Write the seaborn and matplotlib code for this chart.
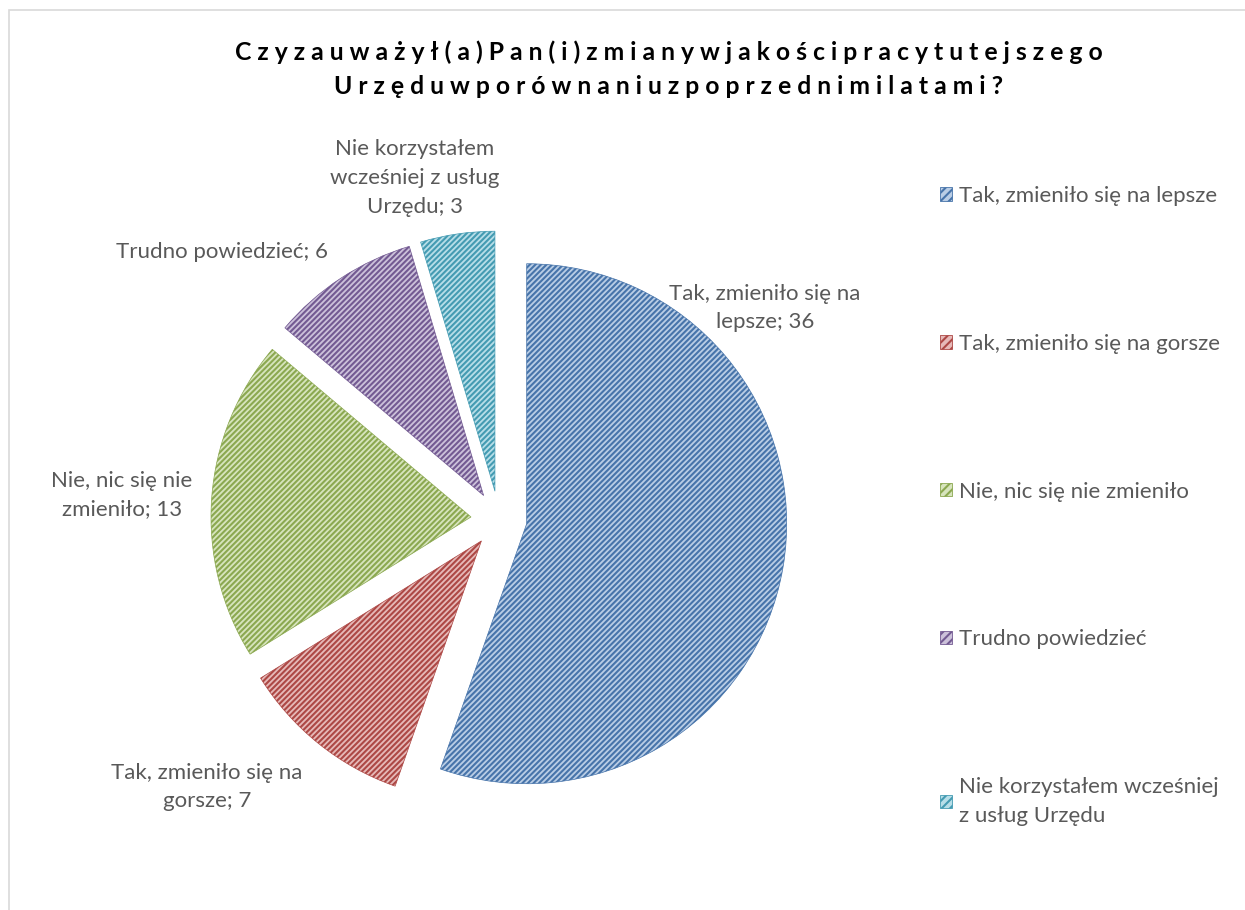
import matplotlib
matplotlib.use("Agg")
import matplotlib.pyplot as plt
import seaborn as sns
from matplotlib.patches import Patch, Rectangle

# ---------------- data ----------------
categories = [
    "Tak, zmieniło się na lepsze",
    "Tak, zmieniło się na gorsze",
    "Nie, nic się nie zmieniło",
    "Trudno powiedzieć",
    "Nie korzystałem wcześniej z usług Urzędu",
]
values = [36, 7, 13, 6, 3]
title_lines = [
    "Czy zauważył(a) Pan(i) zmiany w jakości pracy tutejszego",
    "Urzędu w porównaniu z poprzednimi latami?",
]
# wrapped names as shown on the chart
slice_label_names = [
    "Tak, zmieniło się na\nlepsze",
    "Tak, zmieniło się na\ngorsze",
    "Nie, nic się nie\nzmieniło",
    "Trudno powiedzieć",
    "Nie korzystałem\nwcześniej z usług\nUrzędu",
]
legend_labels = [
    "Tak, zmieniło się na lepsze",
    "Tak, zmieniło się na gorsze",
    "Nie, nic się nie zmieniło",
    "Trudno powiedzieć",
    "Nie korzystałem wcześniej\nz usług Urzędu",
]
base_colors = ["#4F81BD", "#C0504D", "#9BBB59", "#8064A2", "#4BACC6"]

# ---------------- style ----------------
sns.set_theme(style="white")
plt.rcParams["font.family"] = ["Lato", "DejaVu Sans"]
plt.rcParams["hatch.linewidth"] = 1.5
palette = sns.color_palette(base_colors)


def tint(c, t):
    return tuple(x + (1 - x) * t for x in c)


def shade(c, s):
    return tuple(x * s for x in c)


faces = [tint(c, 0.6) for c in palette]
hatches = [shade(c, 0.9) for c in palette]

W, H = 1245, 910
fig = plt.figure(figsize=(W / 100, H / 100), dpi=100)
fig.patch.set_facecolor("white")

# light chart-area border
fig.patches.append(Rectangle((9 / W, -0.05), 1.1, (H - 10) / H + 0.05,
                             transform=fig.transFigure, fill=False,
                             edgecolor="#D9D9D9", linewidth=1.2))

# pie axes: centre (cx, cy) px from top-left, radius R px
cx, cy, R, S = 499, 519, 260, 300
ax = fig.add_axes([(cx - S) / W, (H - cy - S) / H, 2 * S / W, 2 * S / H])
wedges, _ = ax.pie(values, startangle=90, counterclock=False,
                   explode=[0.108] * len(values), radius=1,
                   wedgeprops=dict(linewidth=0.5))
for w, f, h in zip(wedges, faces, hatches):
    w.set_facecolor(f)
    w.set_edgecolor(h)
    w.set_hatch("//////")
lim = S / R
ax.set_xlim(-lim, lim)
ax.set_ylim(-lim, lim)
ax.set_aspect("equal")
ax.axis("off")

# data labels (best-fit positions, px from top-left)
label_pos = [(765, 308), (207, 787), (122, 495), (222, 252), (415, 178)]
for name, v, (x, y) in zip(slice_label_names, values, label_pos):
    fig.text(x / W, 1 - y / H, f"{name}; {v}", ha="center", va="center",
             multialignment="center", fontsize=16, color="#595959",
             linespacing=1.55)

# title with expanded character spacing
for i, line in enumerate(title_lines):
    spaced = " ".join(ch for ch in line if ch != " ")
    fig.text(669 / W, 1 - (52 + 34 * i) / H, spaced, ha="center", va="center",
             fontsize=17.8, fontweight="bold", color="#000000")

# legend
handles = [Patch(facecolor=f, edgecolor=h, hatch="////", linewidth=0.6)
           for f, h in zip(faces, hatches)]
leg = ax.legend(handles, legend_labels, loc="upper left",
                bbox_to_anchor=(940 / W, 1 - 186 / H), bbox_transform=fig.transFigure,
                frameon=False, fontsize=16, labelcolor="#595959",
                handlelength=0.55, handleheight=0.55, handletextpad=0.3,
                labelspacing=5.75, borderaxespad=0, borderpad=0)
for t in leg.get_texts():
    t.set_linespacing(1.55)

fig.savefig("out.png", dpi=100)
